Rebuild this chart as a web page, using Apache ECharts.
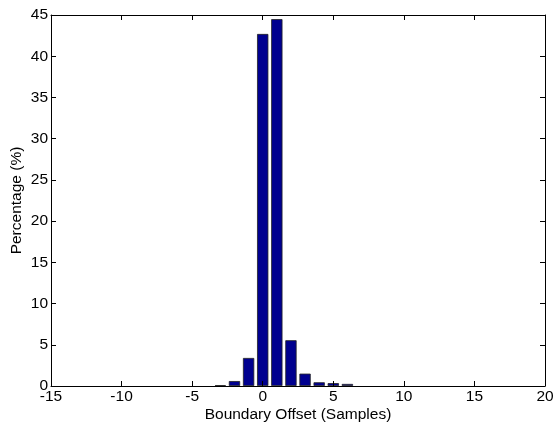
<!DOCTYPE html>
<html>
<head>
    <meta charset="utf-8" />
    <title>Boundary Offset</title>
    <script src="https://cdn.jsdelivr.net/npm/echarts@6/dist/echarts.min.js"></script>
    <style type="text/css">
        html,
        body {
            width: 100%;
            height: 100%;
            margin: 0;
            background: #fff;
        }

        #main {
            width: 555px;
            height: 428px;
        }
    </style>
</head>
<body>
    <div id="main"></div>
    <script>
        // data
        var offsets = [-3, -2, -1, 0, 1, 2, 3, 4, 5, 6];
        var percentages = [0.1, 0.6, 3.4, 42.7, 44.5, 5.55, 1.5, 0.45, 0.35, 0.25];
        var xTicks = [-15, -10, -5, 0, 5, 10, 15, 20];
        var yTicks = [0, 5, 10, 15, 20, 25, 30, 35, 40, 45];

        var font = 'Liberation Sans, Arial, sans-serif';
        var fontSize = 15.5;
        var unitPx = (545 - 51) / (xTicks[xTicks.length - 1] - xTicks[0]);

        var myChart = echarts.init(document.getElementById('main'));

        // box-style axes: ticks pointing in, on all four sides
        var boxAxis = {
            axisLine: { show: true, onZero: false, lineStyle: { color: '#000', width: 1 } },
            axisTick: { show: true, inside: true, length: 5, lineStyle: { color: '#000' } },
            splitLine: { show: false },
            nameMoveOverlap: false,
            z: 5
        };

        var option = {
            animation: false,
            backgroundColor: '#fff',
            grid: { left: 51, right: 10, top: 15, bottom: 42, containLabel: false, outerBoundsMode: 'none' },
            xAxis: [
                Object.assign({}, boxAxis, {
                    type: 'value',
                    position: 'bottom',
                    min: xTicks[0],
                    max: xTicks[xTicks.length - 1],
                    interval: 5,
                    name: 'Boundary Offset (Samples)',
                    nameLocation: 'middle',
                    nameGap: 21,
                    nameTextStyle: { color: '#000', fontSize: fontSize, fontFamily: font },
                    axisLabel: { color: '#000', fontSize: fontSize, fontFamily: font, margin: 3 }
                }),
                Object.assign({}, boxAxis, {
                    type: 'value',
                    position: 'top',
                    min: xTicks[0],
                    max: xTicks[xTicks.length - 1],
                    interval: 5,
                    axisLabel: { show: false }
                })
            ],
            yAxis: [
                Object.assign({}, boxAxis, {
                    type: 'value',
                    position: 'left',
                    min: yTicks[0],
                    max: yTicks[yTicks.length - 1],
                    interval: 5,
                    name: 'Percentage (%)',
                    nameLocation: 'middle',
                    nameGap: 26,
                    nameTextStyle: { color: '#000', fontSize: fontSize, fontFamily: font },
                    axisLabel: { color: '#000', fontSize: fontSize, fontFamily: font, margin: 3 }
                }),
                Object.assign({}, boxAxis, {
                    type: 'value',
                    position: 'right',
                    min: yTicks[0],
                    max: yTicks[yTicks.length - 1],
                    interval: 5,
                    axisLabel: { show: false }
                })
            ],
            series: [{
                type: 'bar',
                barWidth: unitPx * 0.8,
                data: offsets.map(function (x, i) { return [x, percentages[i]]; }),
                itemStyle: {
                    color: '#00008F',
                    borderColor: '#222',
                    borderWidth: 0.8
                }
            }]
        };

        myChart.setOption(option);
    </script>
</body>
</html>
